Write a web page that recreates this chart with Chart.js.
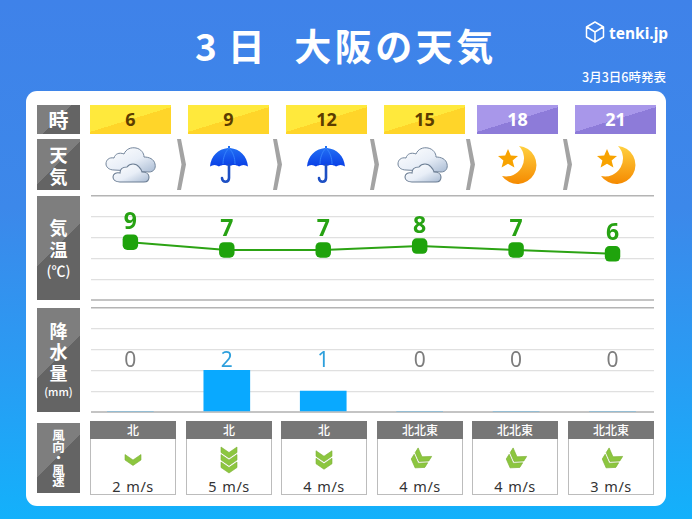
<!DOCTYPE html>
<html lang="ja"><head><meta charset="utf-8">
<script src="https://cdn.jsdelivr.net/npm/chart.js@4"></script>
<style>
html,body{margin:0;padding:0;width:692px;height:519px;overflow:hidden}
body{position:relative;background:linear-gradient(180deg,#3f82e9 0%,#3c88ea 40%,#2a9bf3 70%,#13b1fb 100%);font-family:"Noto Sans","Noto Sans CJK JP",sans-serif}
.a{position:absolute}
#title{left:195px;top:19px;color:#fff;font:700 37px/52px "Noto Sans CJK JP";letter-spacing:3.5px;white-space:pre}
#logo{left:609px;top:22px;color:#fff;font:700 15.5px/22px "Noto Sans"}
#issued{right:26px;top:68px;color:#fff;font:500 12.5px/18px "Noto Sans CJK JP"}
#panel{left:26px;top:91px;width:640px;height:415px;background:#fff;border-radius:11px}
.side{left:37px;width:43px;background:linear-gradient(135deg,#7e7e7e 0%,#7e7e7e 48%,#646464 48%,#646464 100%);color:#fff;font:700 18px/22px "Noto Sans CJK JP";text-align:center;display:flex;flex-direction:column;justify-content:center;align-items:center}
.hour{top:105px;height:29px;width:81px;text-align:center;font:700 18px/29px "Noto Sans"}
.day{background:linear-gradient(163deg,#ffe93c 0%,#ffe93c 50%,#ffd529 50%,#ffd529 100%);color:#5c3c00}
.night{background:linear-gradient(163deg,#a897ea 0%,#a897ea 50%,#8d7bd9 50%,#8d7bd9 100%);color:#fff}
.wind{top:421px;width:84px;height:73px;border:1px solid #bcbcbc;border-top:0;text-align:center}
.wind b{display:block;margin:0 -1px;height:18px;background:#777;color:#fff;font:500 12px/18px "Noto Sans CJK JP"}
.wind span{position:absolute;left:0;right:0;top:56px;font:400 14.5px/18px "Noto Sans";color:#333;letter-spacing:.5px;word-spacing:1px}
.wind svg{position:absolute;left:22px}
canvas{position:absolute}
</style></head><body>
<svg width="0" height="0" style="position:absolute"><defs>
<linearGradient id="cg" x1="0" y1="0" x2="1" y2="1"><stop offset="0" stop-color="#fff"/><stop offset=".55" stop-color="#e8eef7"/><stop offset="1" stop-color="#a9bbd3"/></linearGradient>
<linearGradient id="ug" x1="0" y1="0" x2="0" y2="1"><stop offset="0" stop-color="#2474f5"/><stop offset="1" stop-color="#0a3fe6"/></linearGradient>
<linearGradient id="mg" x1="0" y1="0" x2="0" y2="1"><stop offset="0" stop-color="#ffd040"/><stop offset="1" stop-color="#f58a00"/></linearGradient>
<symbol id="cloud" viewBox="0 0 52 40">
<path d="M9 25c-5 0-8-3-8-6 0-4 3-7 8-6 1-4 5-6 10-4 2-5 7-7 12-6 5 1 8 5 8 9 5 0 10 2 11 7 1 4-1 8-6 8z" fill="url(#cg)" stroke="#74869c" stroke-width="1"/>
<path d="M15 37c-4 0-7-2-7-5s3-5 7-4c0-4 3-6 7-6 3-4 9-4 12 0 2 2 3 3 3 5 4 0 7 2 7 5 0 3-2 5-5 5z" fill="url(#cg)" stroke="#6c7e94" stroke-width="1.100"/>
</symbol>
<symbol id="umbrella" viewBox="0 0 40 40">
<path d="M19 1h2v2c10 1 17 8 18 18.500-3-2-6-2-9 0-3-2-7-2-10 0-3-2-7-2-10 0-3-2-6-2-9 0C2 11 9 4 19 3z" fill="url(#ug)"/>
<path d="M20 3c-4 4-6 10-6 16M20 3c4 4 6 10 6 16" fill="none" stroke="#3c8cff" stroke-width=".8"/>
<path d="M20 20v13c0 5-7 5-7 0" fill="none" stroke="#1d4fc4" stroke-width="2.600" stroke-linecap="round"/>
</symbol>
<symbol id="moon" viewBox="0 0 40 40">
<path d="M21 1A19 19 0 1 1 4 31A18 18 0 0 0 21 1z" fill="url(#mg)"/>
<path d="M10 4l2.800 6.400 7.200 .6-5.400 4.600 1.800 7-6.400-3.800-6.400 3.800 1.800-7L0 11l7.200-.6z" fill="#f8a300"/>
</symbol>
<symbol id="chev" viewBox="0 0 18 13">
<path d="M1 1l8 5.500L17 1v5.500L9 12 1 6.500z" fill="#8cc63f" stroke="#7db035" stroke-width=".6" stroke-linejoin="round"/>
</symbol>
</defs></svg>

<div id="title" class="a"><span style="letter-spacing:11px">3</span>日<span style="letter-spacing:-11px">　</span>大阪の天気</div>
<svg class="a" style="left:585px;top:21px" width="20" height="22" viewBox="0 0 20 22"><path d="M10 1l8.500 5v10L10 21l-8.500-5V6z M2 6l8 5 8-5 M10 11v10" fill="none" stroke="#fff" stroke-width="1.500" stroke-linejoin="round"/></svg>
<div id="logo" class="a">tenki.jp</div>
<div id="issued" class="a">3月3日6時発表</div>
<div id="panel" class="a"></div>
<div id="cells"></div>
<canvas id="tempChart" width="563" height="108" style="left:91px;top:194px"></canvas>
<canvas id="rainChart" width="563" height="108" style="left:91px;top:306px"></canvas>

<script>
const hours = [6, 9, 12, 15, 18, 21];
const weather = ["cloud", "umbrella", "umbrella", "cloud", "moon", "moon"];
const temperatures = [9, 7, 7, 8, 7, 6];
const rainfall = [0, 2, 1, 0, 0, 0];
const windDirections = ["北", "北", "北", "北北東", "北北東", "北北東"];
const windSpeeds = [2, 5, 4, 4, 4, 3];
const windChevrons = [1, 3, 2, 2, 2, 2];
const sideLabels = [
  {top:105,h:29,t:["時"],fs:20,lh:22},
  {top:139,h:51,t:["天","気"],fs:18,lh:22},
  {top:196,h:104,t:["気","温","(℃)"],fs:18,lh:22},
  {top:308,h:104,t:["降","水","量","(mm)"],fs:18,lh:21},
  {top:423,h:70,t:["風","向","・","風","速"],fs:12.500,lh:11.500}
];
const hourLeft = [90,188,286,384,477,575];
const iconCentre = [131,229,326,423,518,617];
const arrowLeft = [177,273,370,466,563];
const windLeft = [90,186,281,377,472,568];

const cells = document.getElementById("cells");
const add = (cls, css, html) => { const d = document.createElement("div"); d.className = "a " + cls; d.style.cssText = css; d.innerHTML = html; cells.appendChild(d); return d; };
sideLabels.forEach(s => add("side", `top:${s.top}px;height:${s.h}px;font-size:${s.fs}px;line-height:${s.lh}px;`,
  s.t.map(x => x.length>1 ? `<span style="font-size:${x.length>3?11:14}px;font-weight:500;white-space:nowrap;line-height:${x.length>3?17:20}px">${x}</span>` : `<span>${x}</span>`).join("")));
hours.forEach((h,i) => {
  add("hour " + (h<18?"day":"night"), `left:${hourLeft[i]}px`, h);
  const w = weather[i]==="cloud"?52:40;
  add("", `left:${iconCentre[i]-w/2}px;top:${weather[i]==="cloud"?145:144.500}px;width:${w}px;height:40px`, `<svg width="${w}" height="40"><use href="#${weather[i]}"/></svg>`);
  const n = windChevrons[i], H = 13 + (n-1)*7.500, rot = windDirections[i]==="北"?0:32;
  let use = "";
  for (let k=n-1;k>=0;k--) use += `<use href="#chev" x="11" y="${(44-H)/2+k*7.500}" width="18" height="13"/>`;
  add("wind", `left:${windLeft[i]}px`, `<b>${windDirections[i]}</b><svg width="40" height="44" style="top:17px"><g transform="rotate(${rot} 20 22)">${use}</g></svg><span>${windSpeeds[i]} m/s</span>`);
});
arrowLeft.forEach(x => add("", `left:${x}px;top:139px;width:10px;height:51px`, `<svg width="10" height="51"><path d="M0 0h4l5 25.500-5 25.500H0l4.500-25.500z" fill="#a3a3a3"/></svg>`));

const gridStyle = (n) => ({
  drawTicks:false,
  color: c => c.index===n ? "#b4b4b4" : c.index===0 ? "#c4c4c4" : "#e0e0e0",
  lineWidth: c => c.index===0 ? 2 : c.index===n ? 1.500 : 1.300
});
const fiveSteps = a => { const s=(a.max-a.min)/5; a.ticks=[0,1,2,3,4,5].map(k=>({value:a.min+k*s})); };
const xAxis = {type:"linear",display:false,min:4.775,max:22.29,offset:false,grid:{display:false}};
const base = {responsive:false,animation:false,layout:{autoPadding:false,padding:{top:2,bottom:2,left:0,right:0}},plugins:{legend:{display:false},tooltip:{enabled:false}}};

const pointLabels = {id:"pointLabels",afterDatasetsDraw(c){
  const g=c.ctx; g.save(); g.textAlign="center"; g.textBaseline="middle"; g.fillStyle="#27a213"; g.font='700 23px "Noto Sans"';
  c.getDatasetMeta(0).data.forEach((p,i)=>g.fillText(temperatures[i],p.x,p.y-20));
  g.restore();
}};
const rainLabels = {id:"rainLabels",afterDatasetsDraw(c){
  const g=c.ctx, y=c.scales.y.getPixelForValue(2.47); g.save(); g.textAlign="center"; g.textBaseline="middle"; g.font='400 21px "Noto Sans"';
  c.getDatasetMeta(0).data.forEach((b,i)=>{g.fillStyle=rainfall[i]>0?"#2d9fdc":"#7d7d7d"; g.fillText(rainfall[i],b.x,y);});
  g.restore();
}};

new Chart(document.getElementById("tempChart"),{type:"line",
  data:{datasets:[{data:hours.map((h,i)=>({x:h,y:temperatures[i]})),borderColor:"#2ca314",borderWidth:2,tension:0,clip:false,
    pointStyle:"rectRounded",pointRadius:9,pointBackgroundColor:"#1fa30c",pointBorderWidth:0}]},
  options:{...base,scales:{x:xAxis,y:{min:-6,max:21,border:{display:false},afterBuildTicks:fiveSteps,ticks:{display:false},grid:gridStyle(5)}}},
  plugins:[pointLabels]});

new Chart(document.getElementById("rainChart"),{type:"bar",
  data:{datasets:[{data:hours.map((h,i)=>({x:h,y:rainfall[i]})),backgroundColor:"#09a9ff",barThickness:46,borderWidth:0}]},
  options:{...base,scales:{x:xAxis,y:{min:0,max:5,border:{display:false},afterBuildTicks:fiveSteps,ticks:{display:false},grid:gridStyle(5)}}},
  plugins:[rainLabels]});
</script>
</body></html>
